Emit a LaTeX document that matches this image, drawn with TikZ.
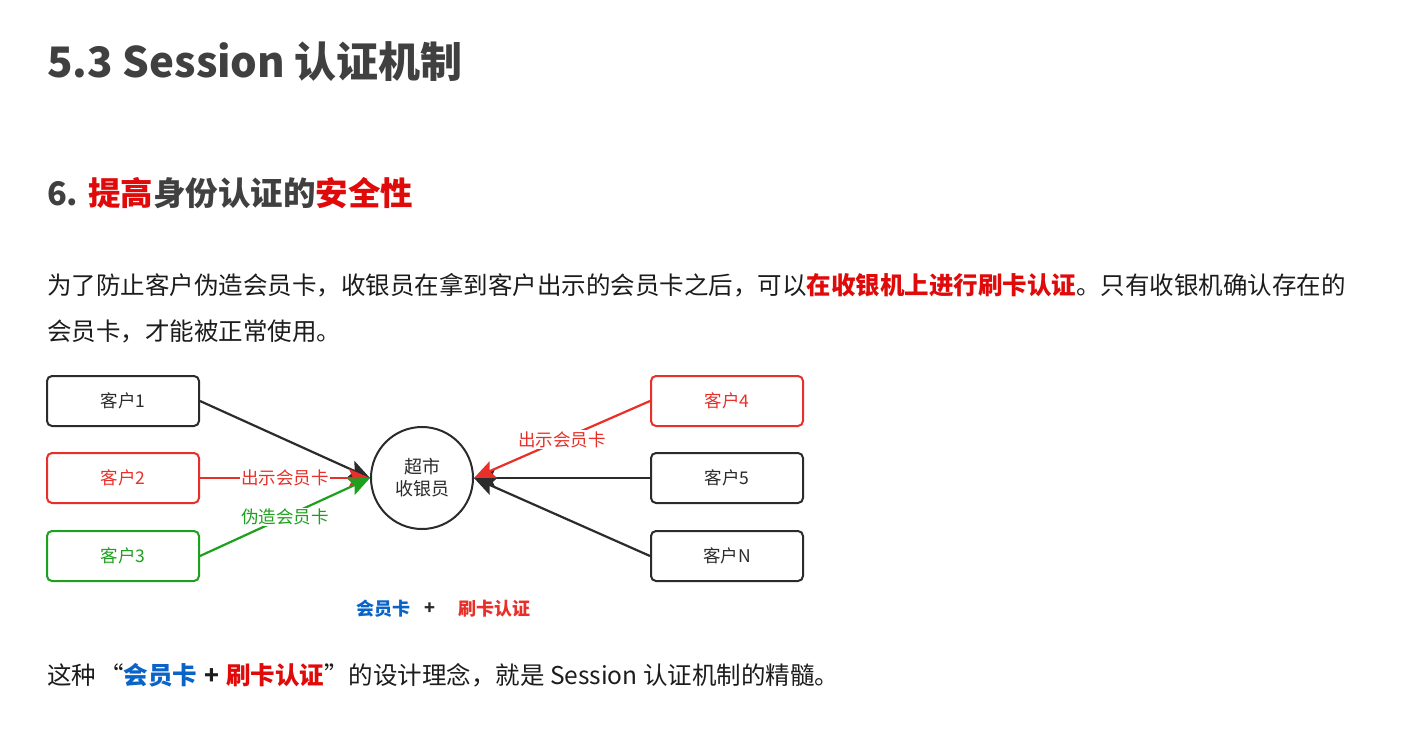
\documentclass[tikz,border=0pt]{standalone}
\usepackage{fontspec}
\setmainfont{Noto Sans CJK SC}
\usetikzlibrary{arrows.meta}
\definecolor{ttl}{HTML}{404040}
\definecolor{body}{HTML}{1C1C1C}
\definecolor{hired}{HTML}{E00A0A}
\definecolor{dred}{HTML}{E8302A}
\definecolor{dgreen}{HTML}{1EA01E}
\definecolor{dblue}{HTML}{0A64C8}
\definecolor{dgray}{HTML}{2B2B2B}
\begin{document}
\begin{tikzpicture}[x=1pt,y=-1pt,
  txt/.style={anchor=base west, inner sep=0pt, text=body},
  client/.style={draw=dgray, line width=2pt, rounded corners=5pt, minimum width=152pt, minimum height=50pt, inner sep=0pt, text=dgray, font=\fontsize{17.5}{17.5}\selectfont},
  redclient/.style={client, draw=dred, text=dred},
  greenclient/.style={client, draw=dgreen, text=dgreen},
  cashier/.style={draw=dgray, line width=2pt, circle, minimum size=102pt, inner sep=0pt, text=dgray, align=center, font=\fontsize{18}{22}\selectfont},
  conn/.style={line width=2.2pt, -{Stealth[length=21pt, width=18pt, inset=4pt]}},
  elabel/.style={midway, fill=white, inner sep=1pt, font=\fontsize{17.5}{17.5}\selectfont}
]
\useasboundingbox[fill=white] (0,0) rectangle (1412,754);

\node[txt, text=ttl] (title) at (47,78) {\fontsize{42}{42}\selectfont\bfseries 5.3 Session 认证机制};
\node[txt, text=ttl] (sub) at (47,205) {\fontsize{32.5}{32.5}\selectfont\bfseries 6. \textcolor{hired}{提高}身份认证的\textcolor{hired}{安全性}};

\node[txt] (p1) at (47,294) {\fontsize{24.5}{24.5}\selectfont 为了防止客户伪造会员卡，收银员在拿到客户出示的会员卡之后，可以\textcolor{hired}{\bfseries 在收银机上进行刷卡认证}。只有收银机确认存在的};
\node[txt] (p2) at (47,340) {\fontsize{24.5}{24.5}\selectfont 会员卡，才能被正常使用。};

\node[client] (c1) at (123,401) {客户1};
\node[redclient] (c2) at (123,478) {客户2};
\node[greenclient] (c3) at (123,556) {客户3};
\node[redclient] (c4) at (727,401) {客户4};
\node[client] (c5) at (727,478) {客户5};
\node[client] (cn) at (727,556) {客户N};
\node[cashier] (cash) at (422,478) {超市\\收银员};

\draw[conn, draw=dgray, fill=dgray] (c1.east) -- (cash.west);
\draw[conn, draw=dred, fill=dred] (c2.east) -- (cash.west) node[elabel, text=dred] {出示会员卡};
\draw[conn, draw=dgreen, fill=dgreen] (c3.east) -- (cash.west) node[elabel, text=dgreen] {伪造会员卡};
\draw[conn, draw=dgray, fill=dgray] (c5.west) -- (cash.east);
\draw[conn, draw=dgray, fill=dgray] (cn.west) -- (cash.east);
\draw[conn, draw=dred, fill=dred] (c4.west) -- (cash.east) node[elabel, text=dred] {出示会员卡};

\node[inner sep=0pt, text=dblue, font=\fontsize{18}{18}\selectfont\bfseries] (card) at (383,609) {会员卡};
\node[inner sep=0pt, text=dgray, font=\fontsize{18}{18}\selectfont\bfseries] (plus) at (430,609) {+};
\node[inner sep=0pt, text=dred, font=\fontsize{18}{18}\selectfont\bfseries] (swipe) at (494,609) {刷卡认证};

\node[txt] (p3) at (47,684) {\fontsize{24.5}{24.5}\selectfont 这种\hspace{3pt}“\textcolor{dblue}{\bfseries 会员卡}\hspace{7pt}{\bfseries +}\hspace{7pt}\textcolor{hired}{\bfseries 刷卡认证}”的设计理念，就是 Session 认证机制的精髓。};
\end{tikzpicture}
\end{document}
